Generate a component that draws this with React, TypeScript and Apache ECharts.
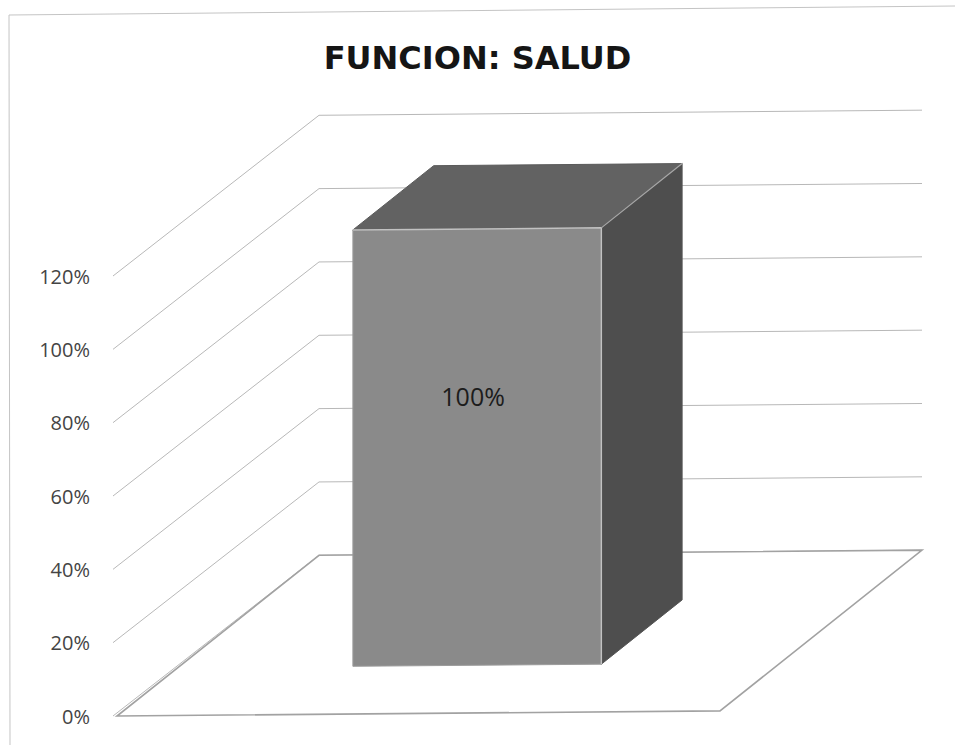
import React, { useEffect, useRef } from "react";
import * as echarts from "echarts";

// ---- data ----
const TITLE = "FUNCION: SALUD";
const categories = ["SALUD"];
const values = [1.0];
const barLabels = ["100%"];
const yTicks = [0, 0.2, 0.4, 0.6, 0.8, 1.0, 1.2];
const Y_MIN = 0;
const Y_MAX = 1.2;
const Y_INTERVAL = 0.2;

// ---- 3D look (styling constants) ----
const DX = 202; // depth shift x (px)
const DY = -159; // depth shift y (px)
const SKEW = 0.0085; // slight scan tilt
const BAR_FRONT_T = 0.3;
const BAR_BACK_T = 0.7;
const BAR_HALF = 0.206; // half bar width as fraction of band
const HEIGHT_SCALE = 1.19; // perspective exaggeration of the bar

export default function App() {
  const ref = useRef<HTMLDivElement>(null);

  useEffect(() => {
    document.body.style.margin = "0";
    if (!ref.current) return;
    const chart = echarts.init(ref.current, undefined, { renderer: "svg" });

    const proj = (x0: number, px: number, py: number, t: number) => {
      const x = px + DX * t;
      const y = py + DY * t - SKEW * (x - x0);
      return [x, y];
    };

    const option: any = {
      animation: false,
      backgroundColor: "#ffffff",
      title: {
        text: TITLE,
        left: "center",
        top: 37,
        textStyle: {
          fontFamily: "DejaVu Sans",
          fontWeight: "bold",
          fontSize: 32,
          color: "#151515",
        },
      },
      graphic: [
        {
          type: "polyline",
          shape: { points: [[10, 745], [9, 15], [955, 6]] },
          style: { stroke: "#c4c4c4", lineWidth: 1, fill: "none" },
          silent: true,
        },
      ],
      grid: { left: 117, right: 235, top: 276, bottom: 29, containLabel: false },
      xAxis: {
        type: "category",
        data: categories,
        show: false,
      },
      yAxis: {
        type: "value",
        min: Y_MIN,
        max: Y_MAX,
        interval: Y_INTERVAL,
        axisLine: { show: false },
        axisTick: { show: false },
        splitLine: { show: false },
        axisLabel: {
          margin: 27,
          fontFamily: "Open Sans",
          fontSize: 20,
          color: "#444444",
          formatter: (v: number) => Math.round(v * 100) + "%",
        },
      },
      series: [
        {
          type: "custom",
          name: "walls",
          z: 1,
          silent: true,
          data: yTicks.map((v) => [0, v]),
          renderItem: (params: any, api: any) => {
            const v = api.value(1);
            const cs = params.coordSys;
            const x0 = cs.x;
            const W = cs.width;
            const yf = api.coord([0, v])[1];
            const a = [x0 - 4, yf];
            const b = proj(x0, x0, yf, 1);
            const c = proj(x0, x0 + W, yf, 1);
            return {
              type: "polyline",
              shape: { points: [a, b, c] },
              style: { stroke: "#b8b8b8", lineWidth: 1, fill: "none" },
            };
          },
        },
        {
          type: "custom",
          name: "floor",
          z: 2,
          silent: true,
          data: [[0, Y_MIN]],
          renderItem: (params: any, api: any) => {
            const cs = params.coordSys;
            const x0 = cs.x;
            const W = cs.width;
            const y0 = api.coord([0, api.value(1)])[1];
            const p1 = [x0, y0];
            const p2 = proj(x0, x0 + W, y0, 0);
            const p3 = proj(x0, x0 + W, y0, 1);
            const p4 = proj(x0, x0, y0, 1);
            return {
              type: "polygon",
              shape: { points: [p1, p2, p3, p4] },
              style: { fill: "#ffffff", stroke: "#a2a2a2", lineWidth: 1.6 },
            };
          },
        },
        {
          type: "custom",
          name: "bar",
          z: 3,
          data: values.map((v, i) => [i, v]),
          renderItem: (params: any, api: any) => {
            const idx = api.value(0);
            const v = api.value(1);
            const x0 = params.coordSys.x;
            const base = api.coord([idx, Y_MIN]);
            const topF = api.coord([idx, v]);
            const band = api.size([1, 0])[0];
            const cx = base[0] - 2;
            const y0 = base[1];
            const h = (y0 - topF[1]) * HEIGHT_SCALE;
            const hw = band * BAR_HALF;
            const l = cx - hw;
            const r = cx + hw;
            const FLb = proj(x0, l, y0, BAR_FRONT_T);
            const FRb = proj(x0, r, y0, BAR_FRONT_T);
            const FLt = proj(x0, l, y0 - h, BAR_FRONT_T);
            const FRt = proj(x0, r, y0 - h, BAR_FRONT_T);
            const BLt = proj(x0, l, y0 - h, BAR_BACK_T);
            const BRt = proj(x0, r, y0 - h, BAR_BACK_T);
            const BRb = proj(x0, r, y0, BAR_BACK_T);
            const labelX = (FLt[0] + FRt[0]) / 2;
            const labelY = FLt[1] + 0.38 * (FLb[1] - FLt[1]);
            return {
              type: "group",
              children: [
                {
                  type: "polygon",
                  shape: { points: [FLb, FRb, FRt, FLt] },
                  style: { fill: "#8a8a8a", stroke: "#9c9c9c", lineWidth: 1 },
                },
                {
                  type: "polygon",
                  shape: { points: [FLt, FRt, BRt, BLt] },
                  style: { fill: "#626262", stroke: "#5a5a5a", lineWidth: 1 },
                },
                {
                  type: "polygon",
                  shape: { points: [FRb, BRb, BRt, FRt] },
                  style: { fill: "#4e4e4e", stroke: "#555555", lineWidth: 1 },
                },
                {
                  type: "polyline",
                  shape: { points: [FLt, FRt, FRb] },
                  style: { stroke: "#c2c2c2", lineWidth: 1.5, fill: "none" },
                },
                {
                  type: "line",
                  shape: { x1: FRt[0], y1: FRt[1], x2: BRt[0], y2: BRt[1] },
                  style: { stroke: "#a8a8a8", lineWidth: 1.2 },
                },
                {
                  type: "text",
                  style: {
                    x: labelX - 4,
                    y: labelY,
                    text: barLabels[idx],
                    fill: "#1c1c1c",
                    fontFamily: "Open Sans",
                    fontSize: 25,
                    align: "center",
                    verticalAlign: "middle",
                  },
                },
              ],
            };
          },
        },
      ],
    };

    chart.setOption(option);
    return () => chart.dispose();
  }, []);

  return <div ref={ref} style={{ width: 955, height: 745 }} />;
}
